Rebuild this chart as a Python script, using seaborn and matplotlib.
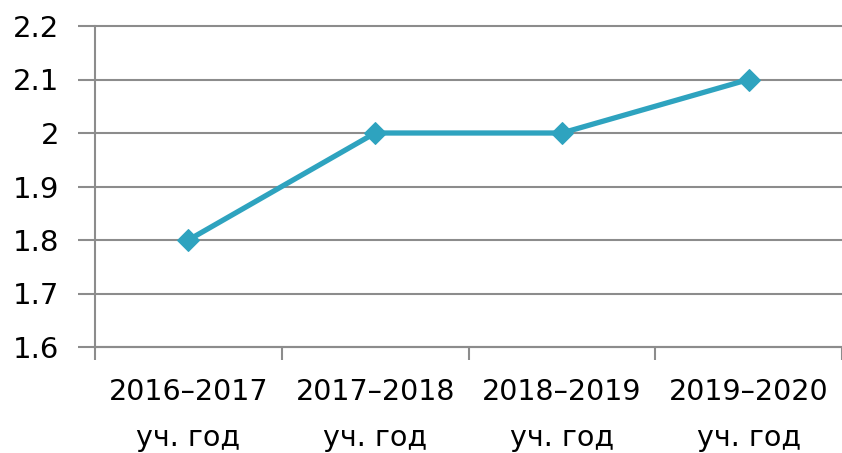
import matplotlib
matplotlib.use("Agg")
import matplotlib.pyplot as plt
import seaborn as sns
import pandas as pd

categories = ["2016–2017\nуч. год", "2017–2018\nуч. год", "2018–2019\nуч. год", "2019–2020\nуч. год"]
values = [1.8, 2.0, 2.0, 2.1]
yticks = [1.6, 1.7, 1.8, 1.9, 2.0, 2.1, 2.2]
ytick_labels = ["1.6", "1.7", "1.8", "1.9", "2", "2.1", "2.2"]

sns.set_theme(style="white")
plt.rcParams['font.family'] = ['DejaVu Sans']

df = pd.DataFrame({"x": list(range(len(categories))), "y": values})

fig = plt.figure(figsize=(8.42, 4.53), dpi=100)
ax = fig.add_axes([95/842, 1-347/453, 747/842, (347-26)/453])

for t in yticks:
    ax.axhline(t, color="#8c8c8c", lw=1.5, zorder=1, clip_on=False)

sns.lineplot(data=df, x="x", y="y", ax=ax, color="#2ea3bf", lw=3.8,
             marker="D", markersize=11, markeredgecolor="#2ea3bf", zorder=3)

ax.set_xlim(-0.5, 3.5)
ax.set_ylim(1.6, 2.2)
ax.set_yticks(yticks)
ax.set_yticklabels(ytick_labels, fontsize=21, color="black")
ax.set_xticks([-0.5, 0.5, 1.5, 2.5, 3.5])
ax.set_xticklabels([])
ax.set_xticks(range(len(categories)), minor=True)
ax.set_xticklabels(categories, minor=True, fontsize=20.5, linespacing=1.85, color="black")
ax.tick_params(axis="x", which="major", length=9, width=1.5, color="#8c8c8c", direction="out", bottom=True)
ax.tick_params(axis="x", which="minor", length=0, pad=22)
ax.tick_params(axis="y", length=12, width=1.5, color="#8c8c8c", left=True, pad=14)

ax.set_xlabel("")
ax.set_ylabel("")
for s in ["top", "right"]:
    ax.spines[s].set_visible(False)
ax.spines["left"].set_color("#8c8c8c")
ax.spines["left"].set_linewidth(1.5)
ax.spines["bottom"].set_color("#8c8c8c")
ax.spines["bottom"].set_linewidth(1.5)

fig.savefig("out.png", dpi=100)
